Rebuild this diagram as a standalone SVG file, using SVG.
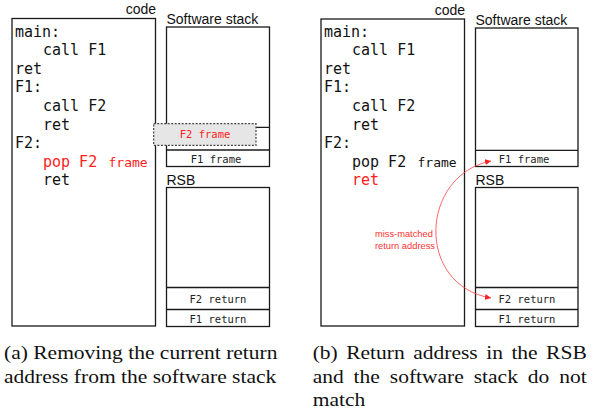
<svg xmlns="http://www.w3.org/2000/svg" width="596" height="414" viewBox="0 0 596 414">
<style>
.box{fill:#fff;stroke:#1a1a1a;stroke-width:1.3}
.ln{stroke:#1a1a1a;stroke-width:1.3}
.code{font-family:"DejaVu Sans Mono","Liberation Mono",monospace;font-size:15px;fill:#111}
.sm{font-family:"DejaVu Sans Mono","Liberation Mono",monospace;font-size:10.5px;fill:#222;text-anchor:middle}
.lbl{font-family:"Liberation Sans","Open Sans",sans-serif;font-size:14px;fill:#111}
.red{fill:#ff2020}
.note{font-family:"Liberation Sans","Open Sans",sans-serif;font-size:9.3px;fill:#ff3030}
.cap{font-family:"Liberation Serif","Times New Roman",serif;font-size:18px;fill:#111}
.dash{fill:#e6e6e6;stroke:#444;stroke-width:1.2;stroke-dasharray:2 1.5}
</style>
<defs>
<marker id="ah" markerUnits="userSpaceOnUse" markerWidth="7" markerHeight="6" refX="6" refY="3" orient="auto-start-reverse">
<path d="M0,0 L6,3 L0,6 z" fill="#ff2020"/>
</marker>
</defs>

<!-- Panel (a) -->
<g id="code-a">
<rect class="box" x="12" y="18.5" width="143.5" height="307.5"/>
<text class="lbl" x="156" y="14" text-anchor="end">code</text>
<text class="code" x="15" y="36.5">main:</text>
<text class="code" x="43" y="55.1">call F1</text>
<text class="code" x="15" y="73.7">ret</text>
<text class="code" x="15" y="92.3">F1:</text>
<text class="code" x="43" y="110.9">call F2</text>
<text class="code" x="43" y="129.5">ret</text>
<text class="code" x="15" y="148.1">F2:</text>
<text class="code red" x="43" y="166.7">pop F2 <tspan x="108.5" font-size="13">frame</tspan></text>
<text class="code" x="43" y="185.3">ret</text>
</g>
<g id="stack-a">
<text class="lbl" x="166.5" y="24">Software stack</text>
<rect class="box" x="166.5" y="27" width="103" height="139.5"/>
<line class="ln" x1="166.5" y1="127.3" x2="269.5" y2="127.3"/>
<line class="ln" x1="166.5" y1="150" x2="269.5" y2="150"/>
<text class="sm" x="216" y="163.3">F1 frame</text>
</g>
<g id="f2frame-a">
<rect class="dash" x="153.7" y="123.7" width="102.3" height="21.6"/>
<text class="sm red" x="205" y="137.5">F2 frame</text>
</g>
<g id="rsb-a">
<text class="lbl" x="166.5" y="184.5">RSB</text>
<rect class="box" x="166.5" y="187.5" width="103" height="139"/>
<line class="ln" x1="166.5" y1="287.5" x2="269.5" y2="287.5"/>
<line class="ln" x1="166.5" y1="309.5" x2="269.5" y2="309.5"/>
<text class="sm" x="218" y="302.8">F2 return</text>
<text class="sm" x="218" y="322.8">F1 return</text>
</g>

<!-- Panel (b) -->
<g id="code-b">
<rect class="box" x="321" y="19" width="143.5" height="307"/>
<text class="lbl" x="465" y="14.5" text-anchor="end">code</text>
<text class="code" x="324" y="36.5">main:</text>
<text class="code" x="352" y="55.1">call F1</text>
<text class="code" x="324" y="73.7">ret</text>
<text class="code" x="324" y="92.3">F1:</text>
<text class="code" x="352" y="110.9">call F2</text>
<text class="code" x="352" y="129.5">ret</text>
<text class="code" x="324" y="148.1">F2:</text>
<text class="code" x="352" y="166.7">pop F2 <tspan x="417.5" font-size="13">frame</tspan></text>
<text class="code red" x="352" y="185.3">ret</text>
</g>
<g id="stack-b">
<text class="lbl" x="475.5" y="24.5">Software stack</text>
<rect class="box" x="475.5" y="28" width="102.5" height="138.5"/>
<line class="ln" x1="475.5" y1="150.3" x2="578" y2="150.3"/>
<text class="sm" x="524" y="163.3">F1 frame</text>
</g>
<g id="rsb-b">
<text class="lbl" x="475.5" y="184.5">RSB</text>
<rect class="box" x="475.5" y="187.5" width="102.5" height="139"/>
<line class="ln" x1="475.5" y1="287.5" x2="578" y2="287.5"/>
<line class="ln" x1="475.5" y1="309.5" x2="578" y2="309.5"/>
<text class="sm" x="527" y="302.8">F2 return</text>
<text class="sm" x="527" y="322.8">F1 return</text>
</g>

<g id="connectors">
<path d="M491,161 C420,175 415,285 491,298" fill="none" stroke="#ff4040" stroke-width="0.8" marker-start="url(#ah)" marker-end="url(#ah)"/>
<text class="note" x="375" y="236.5">miss-matched</text>
<text class="note" x="375" y="248.5">return address</text>
</g>

<!-- Captions -->
<g id="captions" transform="scale(1.195 1)">
<text class="cap" x="3.35" y="359">(a) Removing the current return</text>
<text class="cap" x="3.35" y="383">address from the software stack</text>
<text class="cap" y="359"><tspan x="261.67">(b)</tspan><tspan x="289.71">Return</tspan><tspan x="345.77">address</tspan><tspan x="406.86">in</tspan><tspan x="427.95">the</tspan><tspan x="456.99">RSB</tspan></text>
<text class="cap" y="383"><tspan x="261.67">and</tspan><tspan x="295.93">the</tspan><tspan x="326.19">software</tspan><tspan x="396.44">stack</tspan><tspan x="441.69">do</tspan><tspan x="467.96">not</tspan></text>
<text class="cap" x="261.67" y="406">match</text>
</g>
</svg>
